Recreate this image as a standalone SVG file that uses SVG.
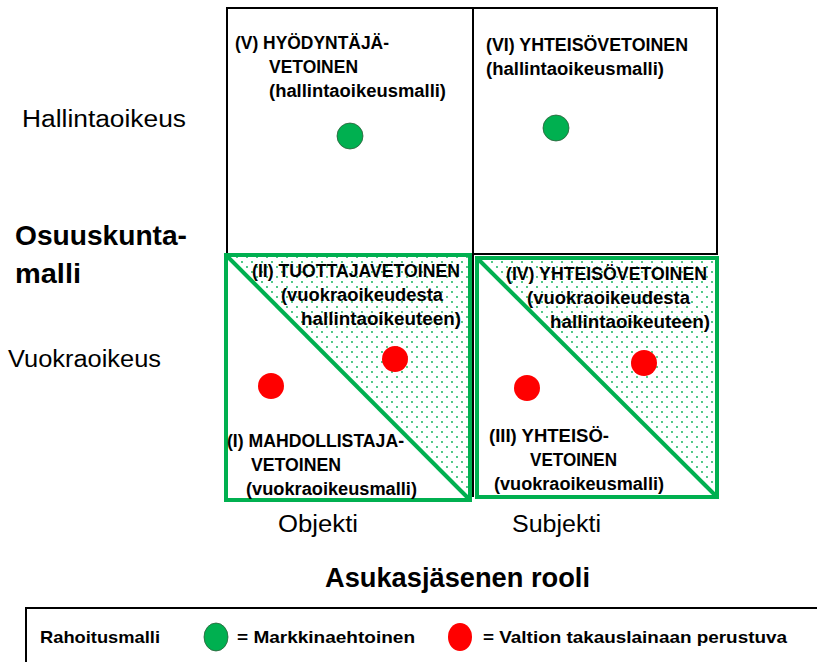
<svg xmlns="http://www.w3.org/2000/svg" width="817" height="662" viewBox="0 0 817 662">
<defs>
<pattern id="dots" width="10" height="10" patternUnits="userSpaceOnUse">
<circle cx="2" cy="2" r="0.9" fill="#00b050"/>
<circle cx="7" cy="7" r="0.9" fill="#00b050"/>
</pattern>
<style>
.q{font-family:"Liberation Sans",Arial,sans-serif;font-weight:bold;font-size:17.5px;fill:#000}
.ax{font-family:"Liberation Sans",Arial,sans-serif;font-size:23px;fill:#000}
.bx{font-family:"Liberation Sans",Arial,sans-serif;font-weight:bold;font-size:28px;fill:#000}
.lg{font-family:"Liberation Sans",Arial,sans-serif;font-weight:bold;font-size:17px;fill:#000}
.grid{fill:none;stroke:#000;stroke-width:2}
.gbox{fill:none;stroke:#00b050;stroke-width:4}
.diag{stroke:#00b050;stroke-width:4}
.gc{fill:#00b050;stroke:#2e5e3a;stroke-width:0.8}
.rc{fill:#ff0000}
</style>
</defs>
<rect width="817" height="662" fill="#fff"/>
<g id="grid">
<rect class="grid" x="227" y="8" width="490" height="246"/>
<line class="grid" x1="473" y1="8" x2="473" y2="497"/>
</g>
<g id="axis-labels">
<text class="ax" x="22" y="127" textLength="164" lengthAdjust="spacingAndGlyphs">Hallintaoikeus</text>
<text class="bx" x="15" y="245" textLength="172" lengthAdjust="spacingAndGlyphs">Osuuskunta-</text>
<text class="bx" x="15" y="283" textLength="66" lengthAdjust="spacingAndGlyphs">malli</text>
<text class="ax" x="8" y="367" textLength="153" lengthAdjust="spacingAndGlyphs">Vuokraoikeus</text>
<text class="ax" x="278" y="532" textLength="80" lengthAdjust="spacingAndGlyphs">Objekti</text>
<text class="ax" x="512" y="532" textLength="89" lengthAdjust="spacingAndGlyphs">Subjekti</text>
<text class="bx" x="325" y="587" textLength="265" lengthAdjust="spacingAndGlyphs">Asukasjäsenen rooli</text>
</g>
<g id="node-V">
<text class="q" x="235" y="49" textLength="154" lengthAdjust="spacingAndGlyphs">(V) HYÖDYNTÄJÄ-</text>
<text class="q" x="269" y="73" textLength="89" lengthAdjust="spacingAndGlyphs">VETOINEN</text>
<text class="q" x="269" y="97" textLength="177" lengthAdjust="spacingAndGlyphs">(hallintaoikeusmalli)</text>
<circle class="gc" cx="350" cy="136" r="13"/>
</g>
<g id="node-VI">
<text class="q" x="486" y="51" textLength="202" lengthAdjust="spacingAndGlyphs">(VI) YHTEISÖVETOINEN</text>
<text class="q" x="486" y="75" textLength="178" lengthAdjust="spacingAndGlyphs">(hallintaoikeusmalli)</text>
<circle class="gc" cx="556" cy="128" r="13"/>
</g>
<g id="node-I-II">
<polygon points="226,255 470,255 470,500" fill="url(#dots)"/>
<rect class="gbox" x="226" y="255" width="244" height="245"/>
<line class="diag" x1="226" y1="255" x2="470" y2="500"/>
<text class="q" x="252" y="277" textLength="208" lengthAdjust="spacingAndGlyphs">(II) TUOTTAJAVETOINEN</text>
<text class="q" x="281" y="301" textLength="162" lengthAdjust="spacingAndGlyphs">(vuokraoikeudesta</text>
<text class="q" x="301" y="325" textLength="160" lengthAdjust="spacingAndGlyphs">hallintaoikeuteen)</text>
<circle class="rc" cx="395" cy="359" r="13"/>
<circle class="rc" cx="271" cy="386" r="13"/>
<text class="q" x="227" y="447" textLength="177" lengthAdjust="spacingAndGlyphs">(I) MAHDOLLISTAJA-</text>
<text class="q" x="251" y="471" textLength="90" lengthAdjust="spacingAndGlyphs">VETOINEN</text>
<text class="q" x="246" y="495" textLength="171" lengthAdjust="spacingAndGlyphs">(vuokraoikeusmalli)</text>
</g>
<g id="node-III-IV">
<polygon points="477,258 717,258 717,497" fill="url(#dots)"/>
<rect class="gbox" x="477" y="258" width="240" height="239"/>
<line class="diag" x1="477" y1="258" x2="717" y2="497"/>
<text class="q" x="506" y="280" textLength="201" lengthAdjust="spacingAndGlyphs">(IV) YHTEISÖVETOINEN</text>
<text class="q" x="527" y="304" textLength="163" lengthAdjust="spacingAndGlyphs">(vuokraoikeudesta</text>
<text class="q" x="550" y="328" textLength="160" lengthAdjust="spacingAndGlyphs">hallintaoikeuteen)</text>
<circle class="rc" cx="644" cy="363" r="13"/>
<circle class="rc" cx="527" cy="388" r="13"/>
<text class="q" x="489" y="442" textLength="120" lengthAdjust="spacingAndGlyphs">(III) YHTEISÖ-</text>
<text class="q" x="530" y="466" textLength="87" lengthAdjust="spacingAndGlyphs">VETOINEN</text>
<text class="q" x="494" y="490" textLength="170" lengthAdjust="spacingAndGlyphs">(vuokraoikeusmalli)</text>
</g>
<g id="legend">
<rect x="26" y="608" width="800" height="70" fill="none" stroke="#000" stroke-width="2"/>
<text class="lg" x="40" y="643" textLength="120" lengthAdjust="spacingAndGlyphs">Rahoitusmalli</text>
<ellipse cx="216" cy="637" rx="12" ry="14" class="gc"/>
<text class="lg" x="237" y="643" textLength="178" lengthAdjust="spacingAndGlyphs">= Markkinaehtoinen</text>
<ellipse cx="460" cy="637" rx="12" ry="14" class="rc"/>
<text class="lg" x="483" y="643" textLength="304" lengthAdjust="spacingAndGlyphs">= Valtion takauslainaan perustuva</text>
</g>
</svg>
